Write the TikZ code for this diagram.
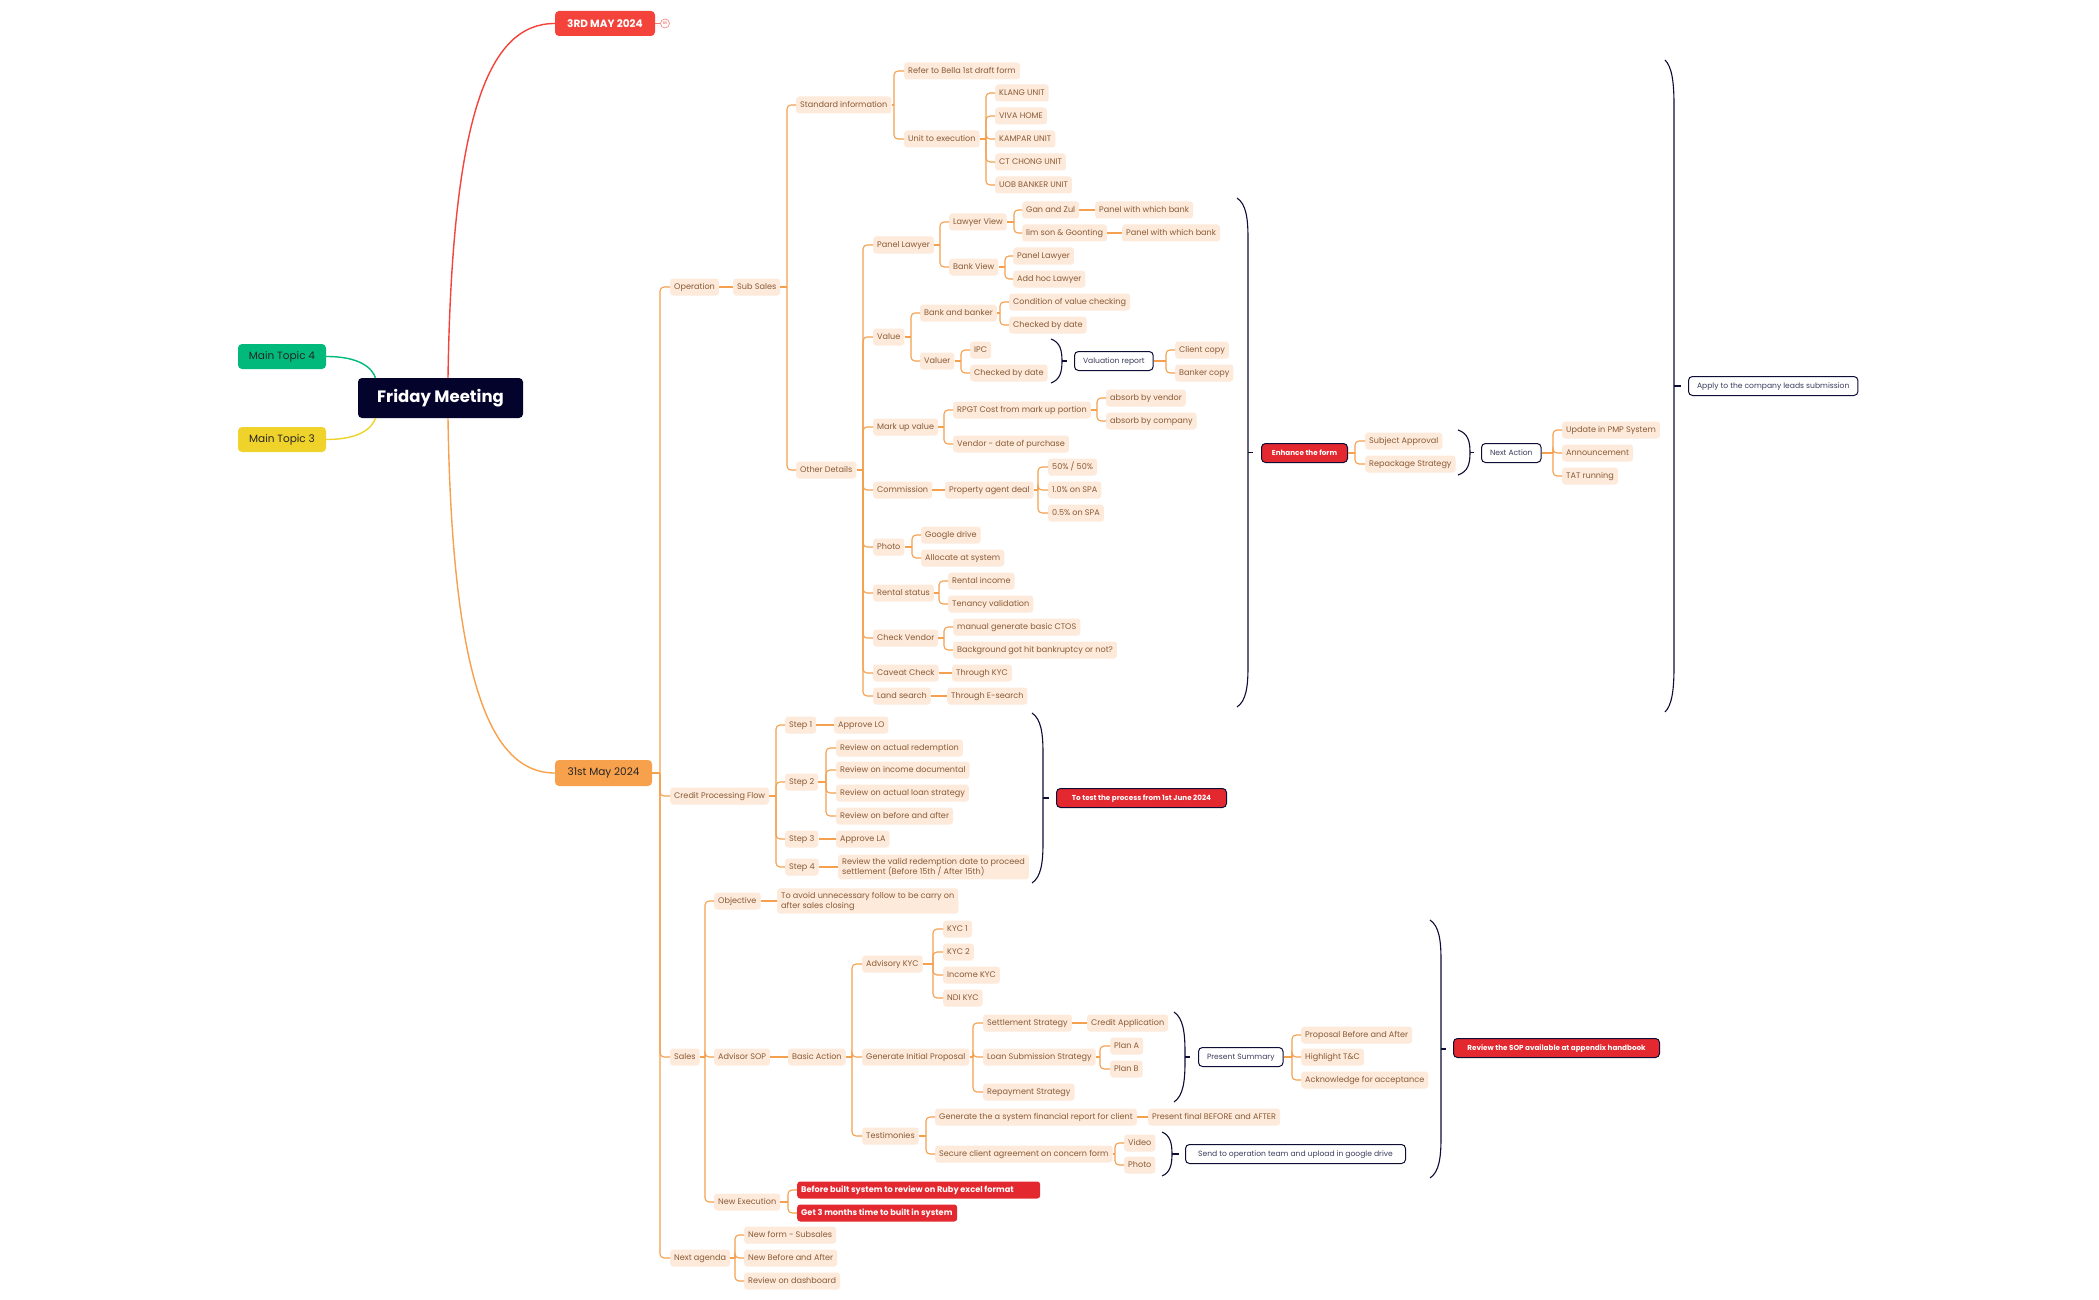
\documentclass[tikz,border=0pt]{standalone}
\usepackage{fontspec}
\setmainfont{Poppins}
\definecolor{peach}{HTML}{FDEADB}
\definecolor{brn}{HTML}{8A5B36}
\definecolor{org}{HTML}{F5A04E}
\definecolor{navy}{HTML}{0D0D35}
\definecolor{navt}{HTML}{3C3C5E}
\definecolor{redn}{HTML}{E4282F}
\definecolor{redd}{HTML}{F4433A}
\definecolor{grn}{HTML}{00B97B}
\definecolor{ylw}{HTML}{EFD22A}
\definecolor{orgf}{HTML}{F7A14C}
\definecolor{frib}{HTML}{03032C}
\newcommand\fsA{\fontsize{8.1}{10}\selectfont}
\newcommand\fsW{\fontsize{7.6}{9}\selectfont}
\newcommand\fsR{\fontsize{7.2}{9}\selectfont\bfseries}
\newcommand\fsB{\fontsize{8.2}{10}\selectfont\bfseries}
\newcommand\fk[3]{%
  \coordinate (fkb) at (#2,0);
  \draw[conn] (#1.east) -- (#1.east -| fkb);
  \foreach \ch in {#3}{\draw[conn,rounded corners=4pt] (#1.east -| fkb) |- (\ch.west);}
}
\newcommand\brc[6]{%
  \draw[brc] (#1,#3) .. controls (#2-2,#3+0.15*#5) and (#2,#3+0.5*#5) .. (#2,#3+#5)
     -- (#2,#4-#5) .. controls (#2,#4-0.5*#5) and (#2-2,#4-0.15*#5) .. (#1,#4);
  \draw[brc] (#2,{(#3+#4)/2}) -- (#6,{(#3+#4)/2});
}
\begin{document}
\begin{tikzpicture}[x=1pt,y=-1pt,
  nd/.style={anchor=west, fill=peach, text=brn, font=\fsA, rounded corners=3pt, inner xsep=4pt, inner ysep=0pt, text height=6.2pt, text depth=1.8pt, minimum height=17pt},
  ndd/.style={anchor=west, fill=peach, text=brn, font=\fsA, rounded corners=3pt, inner xsep=4pt, inner ysep=3.5pt, align=left},
  wb/.style={anchor=west, fill=white, draw=navy, line width=1pt, text=navt, font=\fsW, rounded corners=4pt, inner xsep=8.5pt, inner ysep=0pt, text height=5.8pt, text depth=1.6pt, minimum height=19pt},
  rb/.style={anchor=west, fill=redn, draw=navy, line width=1pt, text=white, font=\fsR, rounded corners=4pt, inner xsep=8pt, inner ysep=0pt, text height=5.6pt, text depth=1.6pt, minimum height=19pt},
  rbb/.style={anchor=west, fill=redn, text=white, font=\fsB, rounded corners=3pt, inner xsep=4pt, inner ysep=0pt, text height=6.3pt, text depth=1.8pt, minimum height=17pt},
  topic/.style={anchor=center, rounded corners=4pt, inner sep=0pt},
  conn/.style={draw=org, line width=1.1pt},
  brc/.style={draw=navy, line width=1.1pt},
  main/.style={line width=1.4pt}
]
\fill[white] (0,0) rectangle (2099,1300);
\useasboundingbox (0,0) rectangle (2099,1300);

% ---- top level
\node[topic, fill=redd, text=white, font=\fontsize{10.5}{12}\selectfont\bfseries, minimum width=100pt, minimum height=25pt] (may3) at (605,23.5) {3RD MAY 2024};
\node[circle, draw=redd!70, line width=0.6pt, minimum size=9pt, inner sep=0pt, text=redd, font=\fontsize{3.5}{4}\selectfont] (cnt) at (665,23.5) {85};
\node[topic, fill=frib, text=white, font=\fontsize{16.5}{20}\selectfont\bfseries, minimum width=165pt, minimum height=40pt] (fri) at (440.5,398) {Friday Meeting};
\node[topic, fill=grn, text=black!85, font=\fontsize{10.5}{12}\selectfont, minimum width=88pt, minimum height=25pt] (mt4) at (282,356.5) {Main Topic 4};
\node[topic, fill=ylw, text=black!85, font=\fontsize{10.5}{12}\selectfont, minimum width=88pt, minimum height=25pt] (mt3) at (282,439.5) {Main Topic 3};
\node[topic, fill=orgf, text=black!85, font=\fontsize{10.5}{12}\selectfont, minimum width=97pt, minimum height=26pt] (may31) at (603.5,773) {31st May 2024};

\draw[main, draw=redd] ([xshift=7.5pt]fri.north) .. controls (452,110) and (490,23.5) .. (may3.west);
\draw[draw=redd!70, line width=0.6pt] (may3.east) -- (cnt.west);
\draw[main, draw=orgf] ([xshift=7.5pt]fri.south) .. controls (452,680) and (490,773) .. (may31.west);
\draw[main, draw=grn] (mt4.east) .. controls (360,356.5) and (372,368) .. ([xshift=-65pt]fri.north);
\draw[main, draw=ylw] (mt3.east) .. controls (360,439.5) and (372,428) .. ([xshift=-65pt]fri.south);

% ---- Operation
\node[nd] (op) at (670,287) {Operation};
\node[nd] (ss) at (733,287) {Sub Sales};
\node[nd] (si) at (796,105) {Standard information};
\node[nd] (rbf) at (904,71) {Refer to Bella 1st draft form};
\node[nd] (ue) at (904,139) {Unit to execution};
\node[nd] (u1) at (995,93) {KLANG UNIT};
\node[nd] (u2) at (995,116) {VIVA HOME};
\node[nd] (u3) at (995,139) {KAMPAR UNIT};
\node[nd] (u4) at (995,162) {CT CHONG UNIT};
\node[nd] (u5) at (995,185) {UOB BANKER UNIT};
\node[nd] (od) at (796,470) {Other Details};
\node[nd] (pl) at (873,245) {Panel Lawyer};
\node[nd] (lv) at (949,222) {Lawyer View};
\node[nd] (bv) at (949,267) {Bank View};
\node[nd] (gz) at (1022,210) {Gan and Zul};
\node[nd] (lg) at (1022,233) {lim son \& Goonting};
\node[nd] (pb1) at (1095,210) {Panel with which bank};
\node[nd] (pb2) at (1122,233) {Panel with which bank};
\node[nd] (bpl) at (1013,256) {Panel Lawyer};
\node[nd] (ahl) at (1013,279) {Add hoc Lawyer};
\node[nd] (val) at (873,337) {Value};
\node[nd] (bab) at (920,313) {Bank and banker};
\node[nd] (vlr) at (920,361) {Valuer};
\node[nd] (cvc) at (1009,302) {Condition of value checking};
\node[nd] (cbd1) at (1009,325) {Checked by date};
\node[nd] (ipc) at (970,350) {IPC};
\node[nd] (cbd2) at (970,373) {Checked by date};
\node[wb] (vrep) at (1074,361) {Valuation report};
\node[nd] (cc) at (1175,350) {Client copy};
\node[nd] (bc) at (1175,373) {Banker copy};
\node[nd] (muv) at (873,427) {Mark up value};
\node[nd] (rpgt) at (953,410) {RPGT Cost from mark up portion};
\node[nd] (vdp) at (953,444) {Vendor - date of purchase};
\node[nd] (abv) at (1106,398) {absorb by vendor};
\node[nd] (abc) at (1106,421) {absorb by company};
\node[nd] (com) at (873,490) {Commission};
\node[nd] (pad) at (945,490) {Property agent deal};
\node[nd] (p50) at (1048,467) {50\% / 50\%};
\node[nd] (p10) at (1048,490) {1.0\% on SPA};
\node[nd] (p05) at (1048,513) {0.5\% on SPA};
\node[nd] (pho) at (873,547) {Photo};
\node[nd] (gd) at (921,535) {Google drive};
\node[nd] (aas) at (921,558) {Allocate at system};
\node[nd] (rs) at (873,593) {Rental status};
\node[nd] (ri) at (948,581) {Rental income};
\node[nd] (tv) at (948,604) {Tenancy validation};
\node[nd] (cv) at (873,638) {Check Vendor};
\node[nd] (ctos) at (953,627) {manual generate basic CTOS};
\node[nd] (bgh) at (953,650) {Background got hit bankruptcy or not?};
\node[nd] (cav) at (873,673) {Caveat Check};
\node[nd] (tk) at (952,673) {Through KYC};
\node[nd] (ls) at (873,696) {Land search};
\node[nd] (te) at (947,696) {Through E-search};
\node[rb, minimum width=86pt] (enh) at (1261,453) {Enhance the form};
\node[nd] (sa) at (1365,441) {Subject Approval};
\node[nd] (rps) at (1365,464) {Repackage Strategy};
\node[wb] (na) at (1481,453) {Next Action};
\node[nd] (pmp) at (1562,430) {Update in PMP System};
\node[nd] (ann) at (1562,453) {Announcement};
\node[nd] (tat) at (1562,476) {TAT running};
\node[wb] (app) at (1688,386) {Apply to the company leads submission};

% ---- Credit
\node[nd] (cpf) at (670,796) {Credit Processing Flow};
\node[nd] (s1) at (785,725) {Step 1};
\node[nd] (s2) at (785,782) {Step 2};
\node[nd] (s3) at (785,839) {Step 3};
\node[nd] (s4) at (785,867) {Step 4};
\node[nd] (alo) at (834,725) {Approve LO};
\node[nd] (r1) at (836,748) {Review on actual redemption};
\node[nd] (r2) at (836,770) {Review on income documental};
\node[nd] (r3) at (836,793) {Review on actual loan strategy};
\node[nd] (r4) at (836,816) {Review on before and after};
\node[nd] (ala) at (836,839) {Approve LA};
\node[ndd] (rvd) at (838,867) {Review the valid redemption date to proceed\\settlement (Before 15th / After 15th)};
\node[rb, minimum width=170pt] (ttp) at (1056,798) {To test the process from 1st June 2024};

% ---- Sales
\node[nd] (sal) at (670,1057) {Sales};
\node[nd] (obj) at (714,901) {Objective};
\node[ndd] (tav) at (777,901) {To avoid unnecessary follow to be carry on\\after sales closing};
\node[nd] (asop) at (714,1057) {Advisor SOP};
\node[nd] (ba) at (788,1057) {Basic Action};
\node[nd] (akyc) at (862,964) {Advisory KYC};
\node[nd] (k1) at (943,929) {KYC 1};
\node[nd] (k2) at (943,952) {KYC 2};
\node[nd] (k3) at (943,975) {Income KYC};
\node[nd] (k4) at (943,998) {NDI KYC};
\node[nd] (gip) at (862,1057) {Generate Initial Proposal};
\node[nd] (sst) at (983,1023) {Settlement Strategy};
\node[nd] (lss) at (983,1057) {Loan Submission Strategy};
\node[nd] (rst) at (983,1092) {Repayment Strategy};
\node[nd] (capp) at (1087,1023) {Credit Application};
\node[nd] (pa) at (1110,1046) {Plan A};
\node[nd] (pbn) at (1110,1069) {Plan B};
\node[wb] (psum) at (1198,1057) {Present Summary};
\node[nd] (pba) at (1301,1035) {Proposal Before and After};
\node[nd] (htc) at (1301,1057) {Highlight T\&C};
\node[nd] (afa) at (1301,1080) {Acknowledge for acceptance};
\node[nd] (tst) at (862,1136) {Testimonies};
\node[nd] (gsf) at (935,1117) {Generate the a system financial report for client};
\node[nd] (pfb) at (1148,1117) {Present final BEFORE and AFTER};
\node[nd] (sca) at (935,1154) {Secure client agreement on concern form};
\node[nd] (vid) at (1124,1143) {Video};
\node[nd] (phb) at (1124,1165) {Photo};
\node[wb, minimum width=220pt] (sto) at (1185,1154) {Send to operation team and upload in google drive};
\node[rb, minimum width=206pt] (rsop) at (1453,1048) {Review the SOP available at appendix handbook};
\node[nd] (nex) at (714,1202) {New Execution};
\node[rbb] (bbs) at (797,1190) {\makebox[235pt][l]{Before built system to review on Ruby excel format}};
\node[rbb] (g3m) at (797,1213) {\makebox[152pt][l]{Get 3 months time to built in system}};
\node[nd] (nag) at (670,1258) {Next agenda};
\node[nd] (nfs) at (744,1235) {New form - Subsales};
\node[nd] (nba) at (744,1258) {New Before and After};
\node[nd] (rod) at (744,1281) {Review on dashboard};

% ---- connectors
\fk{may31}{660}{op,cpf,sal,nag}
\draw[conn] (op.east) -- (ss.west);
\fk{ss}{787}{si,od}
\fk{si}{894}{rbf,ue}
\fk{ue}{986}{u1,u2,u3,u4,u5}
\fk{od}{863}{pl,val,muv,com,pho,rs,cv,cav,ls}
\fk{pl}{940}{lv,bv}
\fk{lv}{1014}{gz,lg}
\draw[conn] (gz.east) -- (pb1.west);
\draw[conn] (lg.east) -- (pb2.west);
\fk{bv}{1005}{bpl,ahl}
\fk{val}{911}{bab,vlr}
\fk{bab}{1000}{cvc,cbd1}
\fk{vlr}{961}{ipc,cbd2}
\fk{vrep}{1166}{cc,bc}
\fk{muv}{944}{rpgt,vdp}
\fk{rpgt}{1097}{abv,abc}
\draw[conn] (com.east) -- (pad.west);
\fk{pad}{1038}{p50,p10,p05}
\fk{pho}{912}{gd,aas}
\fk{rs}{939}{ri,tv}
\fk{cv}{944}{ctos,bgh}
\draw[conn] (cav.east) -- (tk.west);
\draw[conn] (ls.east) -- (te.west);
\fk{enh}{1355}{sa,rps}
\fk{na}{1553}{pmp,ann,tat}
\fk{cpf}{776}{s1,s2,s3,s4}
\draw[conn] (s1.east) -- (alo.west);
\fk{s2}{826}{r1,r2,r3,r4}
\draw[conn] (s3.east) -- (ala.west);
\draw[conn] (s4.east) -- (rvd.west);
\fk{sal}{705}{obj,asop,nex}
\draw[conn] (obj.east) -- (tav.west);
\draw[conn] (asop.east) -- (ba.west);
\fk{ba}{852}{akyc,gip,tst}
\fk{akyc}{933}{k1,k2,k3,k4}
\fk{gip}{973}{sst,lss,rst}
\draw[conn] (sst.east) -- (capp.west);
\fk{lss}{1100}{pa,pbn}
\fk{psum}{1292}{pba,htc,afa}
\fk{tst}{926}{gsf,sca}
\draw[conn] (gsf.east) -- (pfb.west);
\fk{sca}{1115}{vid,phb}
\fk{nex}{788}{bbs,g3m}
\fk{nag}{735}{nfs,nba,rod}

% ---- braces
\brc{1051}{1062}{339}{383}{22}{1067}
\brc{1237}{1248}{198}{707}{40}{1253}
\brc{1458}{1470}{430}{475}{22.5}{1474}
\brc{1665}{1674}{60}{712}{45}{1681}
\brc{1032}{1043}{713}{883}{40}{1049}
\brc{1174}{1185}{1012}{1102}{40}{1190}
\brc{1162}{1172}{1132}{1176}{22}{1179}
\brc{1430}{1441}{920}{1178}{40}{1446}
\end{tikzpicture}
\end{document}
